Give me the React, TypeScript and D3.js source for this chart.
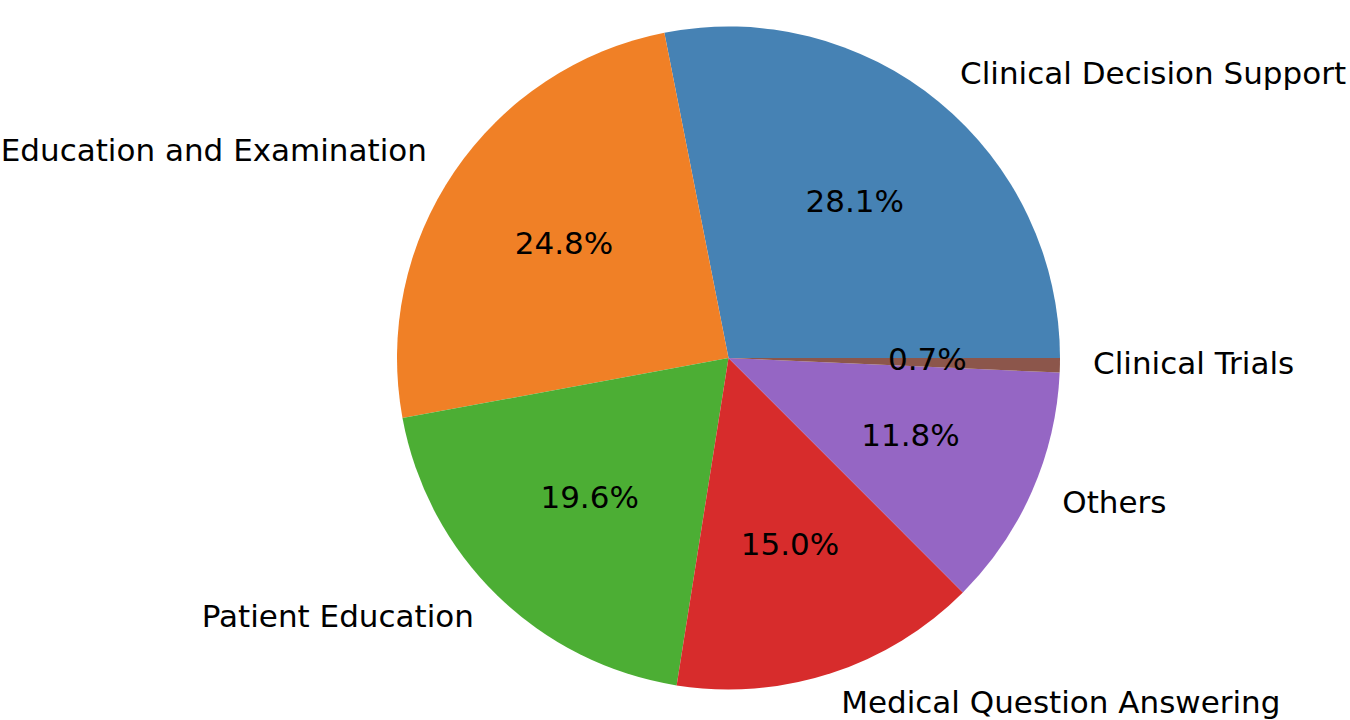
import React, { useRef, useEffect } from 'react';
import * as d3 from 'd3';

// Slice data, in drawing order (counter-clockwise from 3 o'clock)
const categories = [
  'Clinical Decision Support',
  'Education and Examination',
  'Patient Education',
  'Medical Question Answering',
  'Others',
  'Clinical Trials',
];
const shares = [28.1, 24.8, 19.6, 15.0, 11.8, 0.7];
const sliceColors = ['#4682b4', '#f08026', '#4cae34', '#d72c2c', '#9566c4', '#8c564b'];

const App: React.FC = () => {
  const svgRef = useRef<SVGSVGElement>(null);
  const width = 1350;
  const height = 720;

  useEffect(() => {
    if (!svgRef.current) return;
    const svg = d3.select(svgRef.current);
    svg.selectAll('*').remove();

    const cx = 728.5;
    const cy = 358;
    const r = 331.5;
    const fontSize = 31;

    const data = categories.map((c, i) => ({ label: c, value: shares[i], color: sliceColors[i] }));

    // matplotlib style: start at 3 o'clock, run counter-clockwise
    const pie = d3.pie<typeof data[number]>()
      .value(d => d.value)
      .sort(null)
      .startAngle(Math.PI / 2)
      .endAngle(Math.PI / 2 - 2 * Math.PI);

    const arcs = pie(data);
    const arc = d3.arc<d3.PieArcDatum<typeof data[number]>>()
      .innerRadius(0)
      .outerRadius(r);

    const g = svg.append('g').attr('transform', `translate(${cx},${cy})`);

    g.selectAll('path.slice')
      .data(arcs)
      .enter()
      .append('path')
      .attr('class', 'slice')
      .attr('d', arc)
      .attr('fill', d => d.data.color);

    const pos = (d: d3.PieArcDatum<typeof data[number]>, k: number) => {
      const a = (d.startAngle + d.endAngle) / 2;
      return [Math.sin(a) * r * k, -Math.cos(a) * r * k];
    };
    // vertical centring like matplotlib's va='center'
    const dy = fontSize * 0.25;

    g.selectAll('text.label')
      .data(arcs)
      .enter()
      .append('text')
      .attr('class', 'label')
      .attr('x', d => pos(d, 1.1)[0])
      .attr('y', d => pos(d, 1.1)[1] + dy)
      .attr('text-anchor', d => (pos(d, 1.1)[0] > 0 ? 'start' : 'end'))
      .attr('font-family', 'DejaVu Sans')
      .attr('font-size', fontSize)
      .attr('fill', '#000')
      .text(d => d.data.label);

    g.selectAll('text.pct')
      .data(arcs)
      .enter()
      .append('text')
      .attr('class', 'pct')
      .attr('x', d => pos(d, 0.6)[0])
      .attr('y', d => pos(d, 0.6)[1] + dy)
      .attr('text-anchor', 'middle')
      .attr('font-family', 'DejaVu Sans')
      .attr('font-size', fontSize)
      .attr('fill', '#000')
      .text(d => `${d.data.value.toFixed(1)}%`);
  }, []);

  return (
    <svg
      ref={svgRef}
      width={width}
      height={height}
      style={{ position: 'absolute', left: 0, top: 0, background: '#fff' }}
    />
  );
};

export default App;
